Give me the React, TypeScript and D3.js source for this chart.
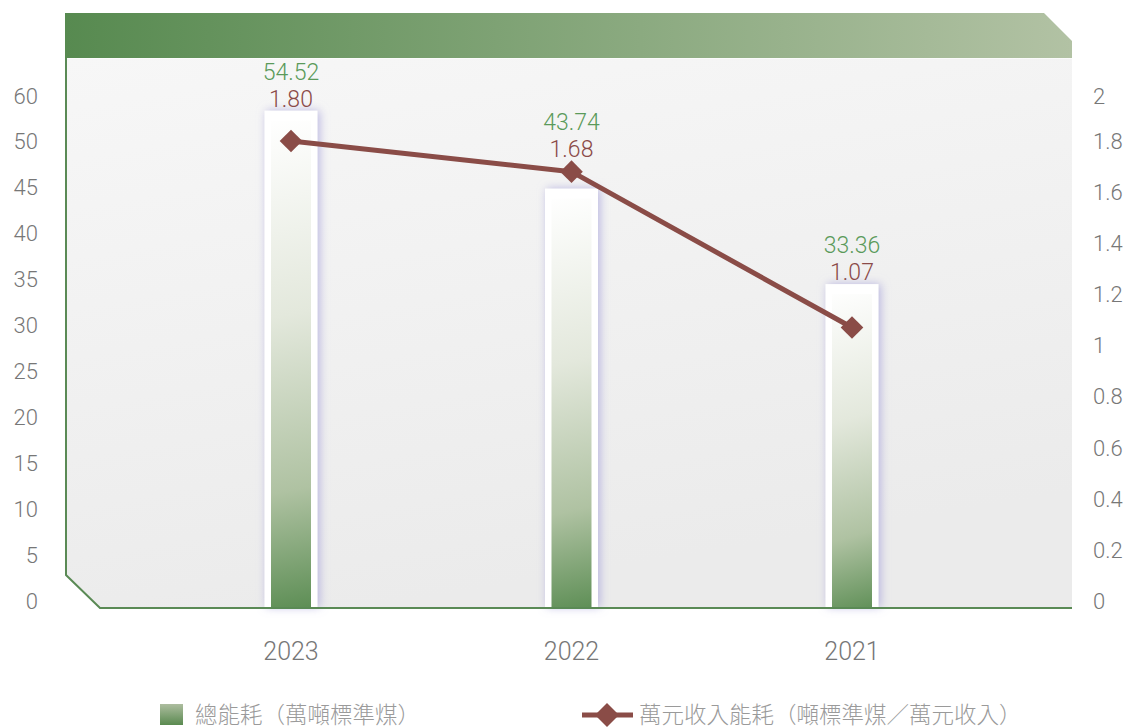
import * as d3 from 'd3'

// chart data
const years = ['2023', '2022', '2021']
const totalEnergy = [54.52, 43.74, 33.36]
const energyIntensity = [1.8, 1.68, 1.07]

const leftTickValues = [0, 5, 10, 15, 20, 25, 30, 35, 40, 45, 50, 60]
const leftTickLabels = ['0', '5', '10', '15', '20', '25', '30', '35', '40', '45', '50', '60']
const rightTickValues = [0, 0.2, 0.4, 0.6, 0.8, 1, 1.2, 1.4, 1.6, 1.8, 2]
const rightTickLabels = ['0', '0.2', '0.4', '0.6', '0.8', '1', '1.2', '1.4', '1.6', '1.8', '2']

const legendBar = '總能耗（萬噸標準煤）'
const legendLine = '萬元收入能耗（噸標準煤／萬元收入）'

const W = 1130
const H = 728
const numFont = '"Helvetica Neue", Roboto, Lato, "DejaVu Sans", sans-serif'
const cjkFont = '"Noto Sans CJK TC", "Noto Sans CJK SC", sans-serif'

export default function App() {
  const panel = { left: 66, right: 1072, top: 58, bottom: 608 }
  const base = 601

  const x = d3.scalePoint<string>().domain(years).range([291, 852])
  const yLeft = d3.scaleLinear().domain([0, 50, 60]).range([base, 141, 96])
  const yRight = d3.scaleLinear().domain([0, 1.8, 2]).range([base, 141, 96])

  const line = d3
    .line<number>()
    .x((_, i) => x(years[i])!)
    .y(d => yRight(d))

  const innerW = 40
  const frameW = 53
  const frameExtra = 10
  const barBottom = 607

  const panelPath = `M${panel.left},${panel.top}H${panel.right}V${panel.bottom}H${panel.left + 34}L${panel.left},${panel.bottom - 33}Z`
  const borderPath = `M${panel.left},${panel.top}V${panel.bottom - 33}L${panel.left + 34},${panel.bottom}H${panel.right}`
  const headerPath = `M65,13H1044L1072,41V58H65Z`

  return (
    <svg width={W} height={H} style={{ position: 'absolute', left: 0, top: 0, background: '#fff' }}>
      <defs>
        <linearGradient id="hdr" x1="0" y1="0" x2="1" y2="0">
          <stop offset="0%" stopColor="#578a50" />
          <stop offset="100%" stopColor="#b2c2a4" />
        </linearGradient>
        <linearGradient id="panelBg" x1="0" y1="0" x2="0.3" y2="1">
          <stop offset="0%" stopColor="#f7f7f7" />
          <stop offset="100%" stopColor="#ebebeb" />
        </linearGradient>
        {years.map((yr, i) => {
          const cx = x(yr)!
          const top = yLeft(totalEnergy[i])
          return (
            <linearGradient
              key={yr}
              id={`barFill${i}`}
              gradientUnits="userSpaceOnUse"
              x1={cx - innerW / 2 - 20}
              y1={top}
              x2={cx + innerW / 2 + 30}
              y2={barBottom}
            >
              <stop offset="0%" stopColor="#ffffff" />
              <stop offset="40%" stopColor="#e3e8dc" />
              <stop offset="75%" stopColor="#afc2a2" />
              <stop offset="100%" stopColor="#5a8c52" />
            </linearGradient>
          )
        })}
        <linearGradient id="legSq" x1="0" y1="0" x2="0" y2="1">
          <stop offset="0%" stopColor="#adbd9f" />
          <stop offset="100%" stopColor="#5a8a50" />
        </linearGradient>
        <filter id="glow" x="-50%" y="-10%" width="200%" height="120%">
          <feDropShadow dx="2" dy="0" stdDeviation="5" floodColor="#aaa6dc" floodOpacity="0.8" />
        </filter>
      </defs>

      {/* panel + header */}
      <path d={panelPath} fill="url(#panelBg)" />
      <path d={headerPath} fill="url(#hdr)" />
      <line x1={65} x2={1072} y1={58.5} y2={58.5} stroke="#ffffff" strokeOpacity={0.6} />

      {/* bars */}
      {years.map((yr, i) => {
        const cx = x(yr)!
        const top = yLeft(totalEnergy[i])
        return (
          <g key={yr}>
            <rect
              x={cx - frameW / 2}
              y={top - frameExtra}
              width={frameW}
              height={barBottom - top + frameExtra}
              fill="#ffffff"
              filter="url(#glow)"
            />
            <rect x={cx - innerW / 2} y={top} width={innerW} height={barBottom - top} fill={`url(#barFill${i})`} />
          </g>
        )
      })}

      <path d={borderPath} fill="none" stroke="#5a8a55" strokeWidth={2} />

      {/* line series */}
      <path d={line(energyIntensity) ?? ''} fill="none" stroke="#8a4c47" strokeWidth={5} strokeLinejoin="round" />
      {energyIntensity.map((v, i) => (
        <rect
          key={i}
          x={-8}
          y={-8}
          width={16}
          height={16}
          fill="#8a4c47"
          transform={`translate(${x(years[i])},${yRight(v)}) rotate(45)`}
        />
      ))}

      {/* value labels */}
      {years.map((yr, i) => {
        const cx = x(yr)!
        const frameTop = yLeft(totalEnergy[i]) - frameExtra
        const py = yRight(energyIntensity[i])
        const lower = Math.min(frameTop - 12, py - 23)
        return (
          <g key={yr} fontFamily={numFont} fontWeight={300} fontSize={23} textAnchor="middle">
            <text x={cx} y={lower - 27} dy="0.36em" fill="#5a9a5a">
              {totalEnergy[i].toFixed(2)}
            </text>
            <text x={cx} y={lower} dy="0.36em" fill="#8b4a48">
              {energyIntensity[i].toFixed(2)}
            </text>
          </g>
        )
      })}

      {/* left axis */}
      <g fontFamily={numFont} fontWeight={300} fontSize={22} fill="#777" textAnchor="end">
        {leftTickValues.map((v, i) => (
          <text key={v} x={38} y={yLeft(v)} dy="0.36em">
            {leftTickLabels[i]}
          </text>
        ))}
      </g>

      {/* right axis */}
      <g fontFamily={numFont} fontWeight={300} fontSize={22} fill="#777" textAnchor="start">
        {rightTickValues.map((v, i) => (
          <text key={v} x={1093} y={yRight(v)} dy="0.36em">
            {rightTickLabels[i]}
          </text>
        ))}
      </g>

      {/* x axis */}
      <g fontFamily={numFont} fontWeight={300} fontSize={25} fill="#777" textAnchor="middle">
        {years.map(yr => (
          <text key={yr} x={x(yr)} y={651} dy="0.36em">
            {yr}
          </text>
        ))}
      </g>

      {/* legend */}
      <rect x={160} y={704} width={23} height={21} fill="url(#legSq)" />
      <text x={195} y={715} dy="0.36em" fontFamily={cjkFont} fontWeight={300} fontSize={22.5} fill="#9a9a9a">
        {legendBar}
      </text>
      <line x1={582} x2={633} y1={715} y2={715} stroke="#8a4c47" strokeWidth={5} />
      <rect x={-8.5} y={-8.5} width={17} height={17} fill="#8a4c47" transform="translate(607,715) rotate(45)" />
      <text x={639} y={715} dy="0.36em" fontFamily={cjkFont} fontWeight={300} fontSize={22.5} fill="#9a9a9a">
        {legendLine}
      </text>
    </svg>
  )
}
